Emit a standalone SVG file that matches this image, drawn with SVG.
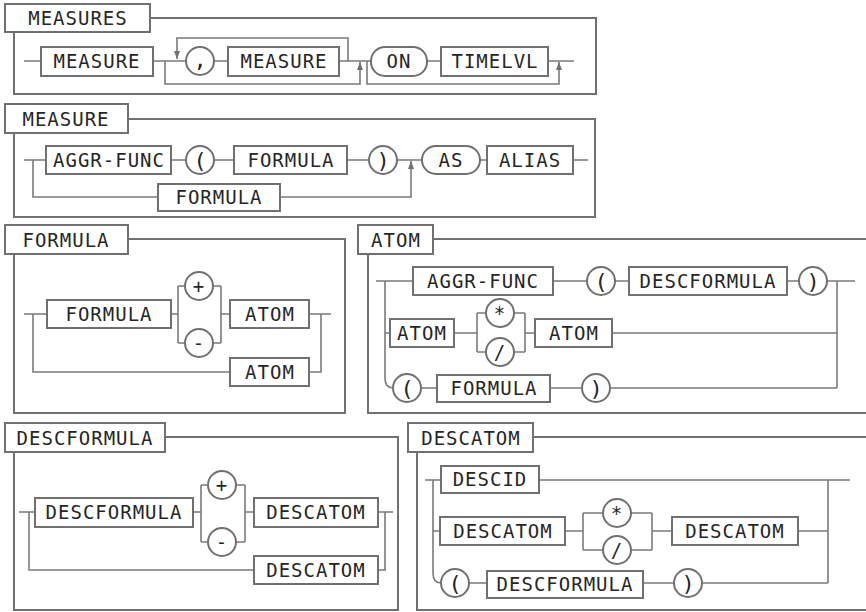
<svg xmlns="http://www.w3.org/2000/svg" width="866" height="612" viewBox="0 0 866 612">
<style>
.frame{fill:none;stroke:#707070;stroke-width:2}
.box{fill:#fff;stroke:#707070;stroke-width:2}
.line{fill:none;stroke:#7a7a7a;stroke-width:1.6}
.t{font-family:"DejaVu Sans Mono","Liberation Mono",monospace;font-size:19px;letter-spacing:1px;fill:#262626;text-anchor:middle}
.p{font-size:22px;letter-spacing:0}
</style>
<defs>
<marker id="arr" viewBox="0 0 8 6" refX="8" refY="3" markerWidth="8" markerHeight="6" markerUnits="userSpaceOnUse" orient="auto">
<path d="M0,0 L8,3 L0,6 z" fill="#707070"/>
</marker>
</defs>
<rect width="866" height="612" fill="#fff"/>

<g id="connectors" class="line">
<!-- MEASURES -->
<path d="M24,61 H41 M153,61 H186 M214,61 H228 M339,61 H371 M427,61 H441 M548,61 H574"/>
<path d="M165,61 V84 H360 V62" marker-end="url(#arr)"/>
<path d="M348,61 V38 H177 V59" marker-end="url(#arr)"/>
<path d="M367,61 V84 H559 V62" marker-end="url(#arr)"/>
<!-- MEASURE -->
<path d="M24,160 H46 M33,160 V197 H158 M171,160 H186 M214,160 H234 M347,160 H369 M397,160 H422 M480,160 H487 M573,160 H588"/>
<path d="M280,197 H411 V161" marker-end="url(#arr)"/>
<!-- FORMULA -->
<path d="M24,314 H47 M33,314 V372 H230 M171,314 H178 M178,286 V343 M178,286 H185 M178,343 H185 M213,286 H221 M213,343 H221 M221,286 V343 M221,314 H230 M309,314 H331 M321,314 V372 H309"/>
<!-- ATOM -->
<path d="M376,281 H413 M385,281 V378 Q385,388 393,388 M385,333 H390 M553,281 H587 M615,281 H629 M787,281 H799 M827,281 H855 M837,281 V388"/>
<path d="M454,333 H477 M477,313 V352 M477,313 H486 M477,352 H486 M514,313 H525 M514,352 H525 M525,313 V352 M525,333 H535 M612,333 H837 M421,388 H437 M550,388 H582 M610,388 H837"/>
<!-- DESCFORMULA -->
<path d="M19,512 H35 M29,512 V570 H254 M193,512 H201 M201,485 V542 M201,485 H208 M201,542 H208 M236,485 H245 M236,542 H245 M245,485 V542 M245,512 H254 M378,512 H393 M385,512 V570 H378"/>
<!-- DESCATOM -->
<path d="M425,480 H441 M433,480 V573 Q433,583 441,583 M433,531 H440 M539,480 H850 M828,480 V583"/>
<path d="M565,531 H583 M583,513 V550 M583,513 H603 M583,550 H603 M631,513 H652 M631,550 H652 M652,513 V550 M652,531 H672 M798,531 H828 M469,583 H487 M643,583 H674 M702,583 H828"/>
</g>

<!-- MEASURES panel -->
<g id="measures">
<path class="frame" d="M150,18 H596 V94 H14 V32"/>
<rect class="box" x="5" y="4" width="145" height="28"/>
<text class="t" x="78" y="25">MEASURES</text>
</g>
<g id="measures-measure1"><rect class="box" x="41" y="47" width="112" height="29"/><text class="t" x="97" y="68">MEASURE</text></g>
<g id="measures-comma"><circle class="box" cx="200" cy="61" r="14"/><text class="t p" x="200" y="67">,</text></g>
<g id="measures-measure2"><rect class="box" x="228" y="47" width="111" height="29"/><text class="t" x="284" y="68">MEASURE</text></g>
<g id="measures-on"><rect class="box" x="371" y="47" width="56" height="29" rx="14"/><text class="t" x="399" y="68">ON</text></g>
<g id="measures-timelvl"><rect class="box" x="441" y="47" width="107" height="29"/><text class="t" x="495" y="68">TIMELVL</text></g>

<!-- MEASURE panel -->
<g id="measure">
<path class="frame" d="M128,119 H595 V217 H14 V133"/>
<rect class="box" x="5" y="104" width="123" height="29"/>
<text class="t" x="66" y="126">MEASURE</text>
</g>
<g id="measure-aggr"><rect class="box" x="46" y="146" width="125" height="28"/><text class="t" x="109" y="167">AGGR-FUNC</text></g>
<g id="measure-lp"><circle class="box" cx="200" cy="160" r="14"/><text class="t p" x="200" y="168">(</text></g>
<g id="measure-formula1"><rect class="box" x="234" y="146" width="113" height="28"/><text class="t" x="291" y="167">FORMULA</text></g>
<g id="measure-rp"><circle class="box" cx="383" cy="160" r="14"/><text class="t p" x="383" y="168">)</text></g>
<g id="measure-formula2"><rect class="box" x="158" y="184" width="122" height="27"/><text class="t" x="219" y="204">FORMULA</text></g>
<g id="measure-as"><rect class="box" x="422" y="146" width="58" height="28" rx="14"/><text class="t" x="451" y="167">AS</text></g>
<g id="measure-alias"><rect class="box" x="487" y="146" width="86" height="28"/><text class="t" x="530" y="167">ALIAS</text></g>

<!-- FORMULA panel -->
<g id="formula">
<path class="frame" d="M128,239 H345 V413 H14 V254"/>
<rect class="box" x="5" y="225" width="123" height="29"/>
<text class="t" x="66" y="247">FORMULA</text>
</g>
<g id="formula-formula"><rect class="box" x="47" y="300" width="124" height="28"/><text class="t" x="109" y="321">FORMULA</text></g>
<g id="formula-plus"><circle class="box" cx="199" cy="286" r="14"/><text class="t" x="199" y="293">+</text></g>
<g id="formula-minus"><circle class="box" cx="199" cy="343" r="14"/><text class="t" x="199" y="350">-</text></g>
<g id="formula-atom1"><rect class="box" x="230" y="300" width="79" height="28"/><text class="t" x="270" y="321">ATOM</text></g>
<g id="formula-atom2"><rect class="box" x="230" y="358" width="79" height="28"/><text class="t" x="270" y="379">ATOM</text></g>

<!-- ATOM panel -->
<g id="atom">
<path class="frame" d="M433,239 H866 M368,254 V413 H866"/>
<rect class="box" x="358" y="225" width="75" height="29"/>
<text class="t" x="396" y="247">ATOM</text>
</g>
<g id="atom-aggr"><rect class="box" x="413" y="267" width="140" height="28"/><text class="t" x="483" y="288">AGGR-FUNC</text></g>
<g id="atom-lp"><circle class="box" cx="601" cy="281" r="14"/><text class="t p" x="601" y="289">(</text></g>
<g id="atom-descformula"><rect class="box" x="629" y="267" width="158" height="28"/><text class="t" x="708" y="288">DESCFORMULA</text></g>
<g id="atom-rp"><circle class="box" cx="813" cy="281" r="14"/><text class="t p" x="813" y="289">)</text></g>
<g id="atom-atom1"><rect class="box" x="390" y="319" width="64" height="28"/><text class="t" x="422" y="340">ATOM</text></g>
<g id="atom-mul"><circle class="box" cx="500" cy="313" r="14"/><text class="t" x="500" y="320">*</text></g>
<g id="atom-div"><circle class="box" cx="500" cy="352" r="14"/><text class="t" x="500" y="359">/</text></g>
<g id="atom-atom2"><rect class="box" x="535" y="319" width="77" height="28"/><text class="t" x="574" y="340">ATOM</text></g>
<g id="atom-lp2"><circle class="box" cx="407" cy="388" r="14"/><text class="t p" x="407" y="396">(</text></g>
<g id="atom-formula"><rect class="box" x="437" y="375" width="113" height="27"/><text class="t" x="494" y="395">FORMULA</text></g>
<g id="atom-rp2"><circle class="box" cx="596" cy="388" r="14"/><text class="t p" x="596" y="396">)</text></g>

<!-- DESCFORMULA panel -->
<g id="descformula">
<path class="frame" d="M165,437 H398 V610 H14 V452"/>
<rect class="box" x="5" y="423" width="160" height="29"/>
<text class="t" x="85" y="445">DESCFORMULA</text>
</g>
<g id="descformula-descformula"><rect class="box" x="35" y="498" width="158" height="29"/><text class="t" x="114" y="519">DESCFORMULA</text></g>
<g id="descformula-plus"><circle class="box" cx="222" cy="485" r="14"/><text class="t" x="222" y="492">+</text></g>
<g id="descformula-minus"><circle class="box" cx="222" cy="542" r="14"/><text class="t" x="222" y="549">-</text></g>
<g id="descformula-descatom1"><rect class="box" x="254" y="498" width="124" height="29"/><text class="t" x="316" y="519">DESCATOM</text></g>
<g id="descformula-descatom2"><rect class="box" x="254" y="556" width="124" height="28"/><text class="t" x="316" y="577">DESCATOM</text></g>

<!-- DESCATOM panel -->
<g id="descatom">
<path class="frame" d="M533,437 H866 M417,452 V610 H866"/>
<rect class="box" x="408" y="423" width="125" height="29"/>
<text class="t" x="471" y="445">DESCATOM</text>
</g>
<g id="descatom-descid"><rect class="box" x="441" y="466" width="98" height="27"/><text class="t" x="490" y="486">DESCID</text></g>
<g id="descatom-descatom1"><rect class="box" x="440" y="517" width="125" height="28"/><text class="t" x="503" y="538">DESCATOM</text></g>
<g id="descatom-mul"><circle class="box" cx="617" cy="513" r="14"/><text class="t" x="617" y="520">*</text></g>
<g id="descatom-div"><circle class="box" cx="617" cy="550" r="14"/><text class="t" x="617" y="557">/</text></g>
<g id="descatom-descatom2"><rect class="box" x="672" y="517" width="126" height="28"/><text class="t" x="735" y="538">DESCATOM</text></g>
<g id="descatom-lp"><circle class="box" cx="455" cy="583" r="14"/><text class="t p" x="455" y="591">(</text></g>
<g id="descatom-descformula"><rect class="box" x="487" y="571" width="156" height="27"/><text class="t" x="565" y="591">DESCFORMULA</text></g>
<g id="descatom-rp"><circle class="box" cx="688" cy="583" r="14"/><text class="t p" x="688" y="591">)</text></g>
</svg>
